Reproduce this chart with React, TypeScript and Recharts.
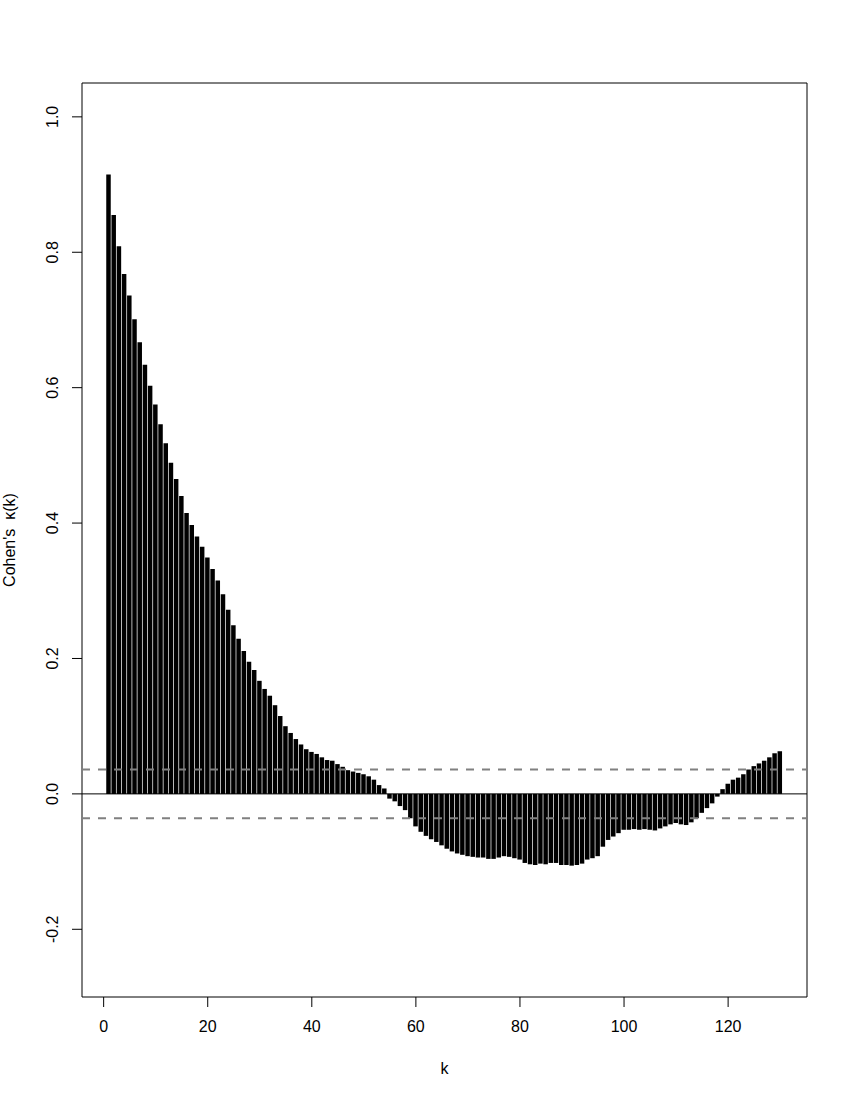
import React from 'react'
import {
  BarChart,
  Bar,
  XAxis,
  YAxis,
  ReferenceLine,
  ReferenceArea,
  Label,
} from 'recharts'

// Cohen's kappa by lag k
const kappa = [
  0.915, 0.855, 0.809, 0.768, 0.736, 0.701, 0.667, 0.634, 0.603, 0.575,
  0.546, 0.518, 0.489, 0.465, 0.44, 0.415, 0.397, 0.38, 0.365, 0.349,
  0.332, 0.315, 0.295, 0.272, 0.249, 0.229, 0.211, 0.195, 0.183, 0.167,
  0.155, 0.145, 0.131, 0.115, 0.1, 0.09, 0.081, 0.073, 0.066, 0.062,
  0.059, 0.054, 0.05, 0.049, 0.044, 0.04, 0.035, 0.033, 0.031, 0.029,
  0.026, 0.021, 0.013, 0.008, -0.007, -0.011, -0.018, -0.024, -0.036, -0.048,
  -0.056, -0.062, -0.067, -0.071, -0.076, -0.081, -0.085, -0.088, -0.09, -0.092,
  -0.093, -0.094, -0.094, -0.096, -0.096, -0.094, -0.092, -0.093, -0.095, -0.097,
  -0.102, -0.104, -0.105, -0.103, -0.104, -0.102, -0.102, -0.105, -0.105, -0.106,
  -0.105, -0.103, -0.097, -0.095, -0.092, -0.078, -0.068, -0.063, -0.058, -0.053,
  -0.053, -0.052, -0.053, -0.052, -0.053, -0.054, -0.051, -0.048, -0.045, -0.043,
  -0.045, -0.046, -0.042, -0.036, -0.028, -0.021, -0.014, -0.004, 0.007, 0.015,
  0.021, 0.024, 0.029, 0.036, 0.041, 0.045, 0.049, 0.054, 0.06, 0.063,
]
const lags = kappa.map((_, i) => i + 1)

const xTicks = [0, 20, 40, 60, 80, 100, 120]
const yTicks = [-0.2, 0, 0.2, 0.4, 0.6, 0.8, 1.0]
const xDomain = [-4.16, 135.16]
const yDomain = [-0.3, 1.05]
const bound = 0.036 // dashed significance band

const data = lags.map((k, i) => ({ k, kappa: kappa[i] }))

const FONT = '"Liberation Sans", Arial, Helvetica, sans-serif'

function YTick({ x, y, payload }: any) {
  return (
    <text
      x={x}
      y={y}
      transform={`rotate(-90, ${x}, ${y})`}
      textAnchor="middle"
      fontSize={16}
      fontFamily={FONT}
      fill="#000"
    >
      {payload.value.toFixed(1)}
    </text>
  )
}

function YLabel({ viewBox }: any) {
  const cx = 15
  const cy = viewBox.y + viewBox.height / 2
  return (
    <text
      x={cx}
      y={cy}
      transform={`rotate(-90, ${cx}, ${cy})`}
      textAnchor="middle"
      fontSize={16}
      fontFamily={FONT}
      fill="#000"
      style={{ whiteSpace: 'pre' }}
    >
      {"Cohen's  κ(k)"}
    </text>
  )
}

export default function App() {
  return (
    <div style={{ position: 'absolute', left: 0, top: 0, background: '#fff' }}>
      <BarChart
        width={850}
        height={1100}
        data={data}
        margin={{ top: 83, right: 43, left: 0, bottom: 0 }}
      >
        <XAxis
          dataKey="k"
          type="number"
          domain={xDomain}
          ticks={xTicks}
          allowDataOverflow
          axisLine={false}
          tickSize={10}
          tickMargin={14}
          height={103}
          stroke="#000"
          tick={{ fontSize: 16, fontFamily: FONT, fill: '#000' }}
        >
          <Label
            value="k"
            position="insideBottom"
            offset={26}
            style={{ fontSize: 16, fontFamily: FONT, fill: '#000' }}
          />
        </XAxis>
        <YAxis
          type="number"
          domain={yDomain}
          ticks={yTicks}
          allowDataOverflow
          axisLine={false}
          tickSize={10}
          tickMargin={14}
          width={82}
          stroke="#000"
          tick={<YTick />}
        >
          <Label content={<YLabel />} />
        </YAxis>
        <ReferenceArea
          x1={xDomain[0]}
          x2={xDomain[1]}
          y1={yDomain[0]}
          y2={yDomain[1]}
          fill="none"
          stroke="#000"
          strokeWidth={1}
          ifOverflow="visible"
        />
        <Bar dataKey="kappa" fill="#000" barSize={4.5} isAnimationActive={false} />
        <ReferenceLine y={0} stroke="#000" strokeWidth={1} />
        <ReferenceLine y={bound} stroke="#808080" strokeWidth={2} strokeDasharray="8 8" />
        <ReferenceLine y={-bound} stroke="#808080" strokeWidth={2} strokeDasharray="8 8" />
      </BarChart>
    </div>
  )
}
